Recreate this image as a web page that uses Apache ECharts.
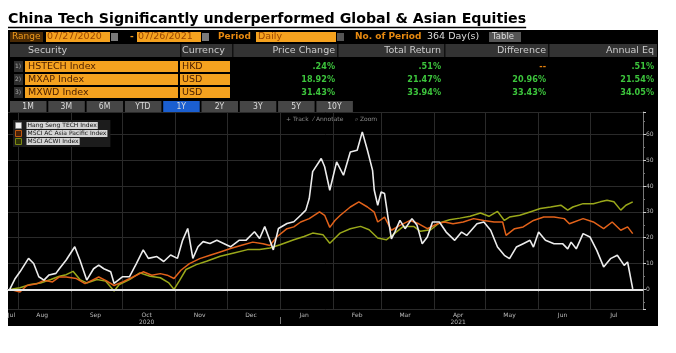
<!DOCTYPE html>
<html>
<head>
<meta charset="utf-8">
<script src="https://cdn.jsdelivr.net/npm/echarts@6/dist/echarts.min.js"></script>
<style>
html, body { margin: 0; padding: 0; background: #fff; }
#main { width: 676px; height: 353px; }
</style>
</head>
<body>
<div id="main"></div>
<script>
// ---- data ----
const titleText = 'China Tech Significantly underperformed Global & Asian Equities';
const seriesNames = ['Hang Seng TECH Index', 'MSCI AC Asia Pacific Index', 'MSCI ACWI Index'];
const securities = ['HSTECH Index', 'MXAP Index', 'MXWD Index'];
const currencies = ['HKD', 'USD', 'USD'];
const priceChange = ['.24%', '18.92%', '31.43%'];
const totalReturn = ['.51%', '21.47%', '33.94%'];
const difference = ['--', '20.96%', '33.43%'];
const annualEq = ['.51%', '21.54%', '34.05%'];
const tableHeaders = ['Security', 'Currency', 'Price Change', 'Total Return', 'Difference', 'Annual Eq'];
const periodButtons = ['1M', '3M', '6M', 'YTD', '1Y', '2Y', '3Y', '5Y', '10Y'];
const monthNames = ['Jan', 'Feb', 'Mar', 'Apr', 'May', 'Jun', 'Jul', 'Aug', 'Sep', 'Oct', 'Nov', 'Dec'];
const yTickValues = [0, 10, 20, 30, 40, 50, 60];

// % price change, [date, value]
const hstech = [
  ['2020-07-27', 0], ['2020-07-30', 4], ['2020-08-02', 6.8], ['2020-08-07', 12], ['2020-08-10', 10],
  ['2020-08-13', 4.9], ['2020-08-16', 3.6], ['2020-08-19', 5.6], ['2020-08-23', 6.2], ['2020-08-25', 8],
  ['2020-08-29', 11.4], ['2020-09-03', 16.5], ['2020-09-06', 11.4], ['2020-09-10', 3.6], ['2020-09-14', 8],
  ['2020-09-17', 9.4], ['2020-09-20', 8], ['2020-09-24', 6.8], ['2020-09-26', 2.3], ['2020-10-01', 4.9],
  ['2020-10-05', 4.9], ['2020-10-09', 10], ['2020-10-13', 15.3], ['2020-10-16', 12], ['2020-10-21', 12.7],
  ['2020-10-25', 10.8], ['2020-10-29', 13.3], ['2020-11-02', 12], ['2020-11-05', 19], ['2020-11-08', 23.6],
  ['2020-11-11', 12], ['2020-11-14', 16.5], ['2020-11-17', 18.5], ['2020-11-21', 17.8], ['2020-11-25', 19],
  ['2020-11-29', 17.8], ['2020-12-03', 16.5], ['2020-12-08', 19], ['2020-12-12', 19], ['2020-12-17', 22.3],
  ['2020-12-20', 19.7], ['2020-12-23', 24.3], ['2020-12-26', 19], ['2020-12-28', 15.3], ['2020-12-31', 23.6],
  ['2021-01-05', 25.5], ['2021-01-09', 26.2], ['2021-01-13', 28.7], ['2021-01-16', 30.7], ['2021-01-18', 35.2],
  ['2021-01-20', 45.6], ['2021-01-25', 50.7], ['2021-01-27', 47.5], ['2021-01-30', 38.4], ['2021-02-03', 49.4],
  ['2021-02-07', 44.2], ['2021-02-11', 53.2], ['2021-02-15', 53.9], ['2021-02-18', 61], ['2021-02-21', 53.9],
  ['2021-02-24', 46.1], ['2021-02-25', 38.4], ['2021-02-27', 32.6], ['2021-03-01', 37.7], ['2021-03-03', 37.1],
  ['2021-03-05', 28], ['2021-03-07', 19.6], ['2021-03-09', 22.2], ['2021-03-12', 26.7], ['2021-03-15', 23.5],
  ['2021-03-19', 27.4], ['2021-03-22', 24.8], ['2021-03-25', 17.7], ['2021-03-28', 20.3], ['2021-03-31', 26.1],
  ['2021-04-04', 26.1], ['2021-04-08', 22.2], ['2021-04-13', 19], ['2021-04-17', 22.2], ['2021-04-20', 20.9],
  ['2021-04-26', 25.4], ['2021-04-30', 26.1], ['2021-05-04', 22.9], ['2021-05-08', 16.4], ['2021-05-12', 13.2],
  ['2021-05-15', 11.9], ['2021-05-19', 16.4], ['2021-05-23', 17.7], ['2021-05-27', 19], ['2021-05-29', 16.4],
  ['2021-06-01', 22.2], ['2021-06-05', 19], ['2021-06-10', 17.7], ['2021-06-15', 17.7], ['2021-06-18', 15.7],
  ['2021-06-20', 18.3], ['2021-06-23', 15.7], ['2021-06-27', 21.6], ['2021-07-01', 20.3], ['2021-07-05', 15.1],
  ['2021-07-09', 8.7], ['2021-07-13', 11.9], ['2021-07-17', 13.2], ['2021-07-21', 9.3], ['2021-07-23', 10.6],
  ['2021-07-26', 0.2]
];
const mxap = [
  ['2020-07-27', 0], ['2020-08-02', -1], ['2020-08-06', 1.5], ['2020-08-12', 2.2], ['2020-08-16', 3.5],
  ['2020-08-21', 2.9], ['2020-08-25', 4.8], ['2020-08-29', 4.8], ['2020-09-04', 4.2], ['2020-09-09', 2.2],
  ['2020-09-13', 3.5], ['2020-09-17', 4.8], ['2020-09-21', 3.5], ['2020-09-26', 1.5], ['2020-10-01', 2.9],
  ['2020-10-07', 4.8], ['2020-10-13', 6.8], ['2020-10-18', 5.5], ['2020-10-23', 6.1], ['2020-10-27', 5.5],
  ['2020-10-31', 4.2], ['2020-11-04', 7.4], ['2020-11-09', 10], ['2020-11-15', 11.9], ['2020-11-21', 13.2],
  ['2020-11-27', 14.5], ['2020-12-03', 15.8], ['2020-12-09', 17], ['2020-12-16', 18.3], ['2020-12-22', 17.7],
  ['2020-12-26', 17], ['2020-12-30', 20.3], ['2021-01-05', 23.5], ['2021-01-09', 24.2], ['2021-01-13', 26.1],
  ['2021-01-18', 27.4], ['2021-01-24', 30], ['2021-01-27', 28.7], ['2021-01-30', 24], ['2021-02-02', 26.7],
  ['2021-02-05', 28.6], ['2021-02-11', 31.9], ['2021-02-16', 33.9], ['2021-02-21', 31.9], ['2021-02-25', 29.9],
  ['2021-02-27', 26.1], ['2021-03-03', 28], ['2021-03-07', 22.9], ['2021-03-12', 24.8], ['2021-03-18', 26.7],
  ['2021-03-23', 25.4], ['2021-03-28', 23.5], ['2021-04-03', 25.4], ['2021-04-07', 26.1], ['2021-04-12', 25.4],
  ['2021-04-18', 26.1], ['2021-04-24', 27.4], ['2021-04-30', 26.7], ['2021-05-06', 26.1], ['2021-05-11', 26.1],
  ['2021-05-13', 20.9], ['2021-05-18', 23.5], ['2021-05-23', 24.2], ['2021-05-29', 26.7], ['2021-06-04', 28],
  ['2021-06-10', 28], ['2021-06-16', 27.4], ['2021-06-19', 25.4], ['2021-06-27', 27.4], ['2021-07-03', 26.1],
  ['2021-07-09', 23.5], ['2021-07-14', 26.1], ['2021-07-19', 22.9], ['2021-07-23', 24.2], ['2021-07-26', 21.6]
];
const mxwd = [
  ['2020-07-27', 0], ['2020-08-02', 0.6], ['2020-08-08', 1.9], ['2020-08-14', 2.5], ['2020-08-20', 3.8],
  ['2020-08-25', 5.1], ['2020-08-29', 5.7], ['2020-09-02', 7], ['2020-09-06', 3.8], ['2020-09-10', 2.5],
  ['2020-09-16', 3.8], ['2020-09-21', 3.2], ['2020-09-26', -0.6], ['2020-09-29', 1.9], ['2020-10-05', 3.8],
  ['2020-10-11', 6.4], ['2020-10-17', 5.1], ['2020-10-23', 4.5], ['2020-10-28', 2.5], ['2020-10-31', 0],
  ['2020-11-03', 3.2], ['2020-11-07', 7.7], ['2020-11-13', 9.6], ['2020-11-19', 10.9], ['2020-11-27', 12.8],
  ['2020-12-05', 14.1], ['2020-12-13', 15.4], ['2020-12-20', 15.4], ['2020-12-26', 16], ['2021-01-01', 17.3],
  ['2021-01-09', 19.2], ['2021-01-15', 20.5], ['2021-01-20', 21.8], ['2021-01-26', 21.2], ['2021-01-30', 17.9],
  ['2021-02-03', 20.5], ['2021-02-05', 21.8], ['2021-02-11', 23.5], ['2021-02-17', 24.4], ['2021-02-22', 23.1],
  ['2021-02-27', 19.9], ['2021-03-04', 19.2], ['2021-03-08', 21.2], ['2021-03-14', 24.4], ['2021-03-20', 24.4],
  ['2021-03-24', 22.5], ['2021-03-30', 23.1], ['2021-04-04', 25.7], ['2021-04-10', 27], ['2021-04-16', 27.6],
  ['2021-04-22', 28.3], ['2021-04-28', 29.6], ['2021-05-03', 28.3], ['2021-05-08', 30.2], ['2021-05-12', 26.7],
  ['2021-05-15', 28], ['2021-05-21', 28.7], ['2021-05-27', 30], ['2021-06-02', 31.3], ['2021-06-08', 31.9],
  ['2021-06-14', 32.6], ['2021-06-18', 30.7], ['2021-06-21', 31.9], ['2021-06-27', 33.2], ['2021-07-03', 33.2],
  ['2021-07-07', 33.9], ['2021-07-11', 34.5], ['2021-07-15', 33.9], ['2021-07-19', 30.7], ['2021-07-22', 32.6],
  ['2021-07-26', 33.9]
];

// daily categories for the x axis
const xDates = [];
for (let t = Date.UTC(2020, 6, 26); t <= Date.UTC(2021, 7, 1); t += 86400000) {
  xDates.push(new Date(t).toISOString().slice(0, 10));
}

// ---- graphic helpers ----
const FONT = '"DejaVu Sans", sans-serif';
const NARROW = '"Liberation Sans Narrow", "DejaVu Sans Condensed", sans-serif';
function rect(x, y, w, h, fill, extra) {
  return Object.assign({ type: 'rect', shape: { x: x, y: y, width: w, height: h }, style: { fill: fill }, silent: true }, extra || {});
}
function txt(s, x, y, fill, font, align) {
  return { type: 'text', silent: true, style: { text: s, x: x, y: y, fill: fill, font: font, align: align || 'left', verticalAlign: 'middle' } };
}

const titleFont = 'bold 14.2px "DejaVu Sans", sans-serif';
const measure = document.createElement('canvas').getContext('2d');
measure.font = titleFont;
const titleW = measure.measureText(titleText).width;

const g = [];
// title
g.push(txt(titleText, 8, 19, '#000', titleFont));
g.push({ type: 'line', silent: true, shape: { x1: 8, y1: 27.5, x2: 8 + titleW, y2: 27.5 }, style: { stroke: '#000', lineWidth: 1.3 } });
// black panel
g.push(rect(8, 30, 650, 296, '#000', { z: -10 }));

// range row
const orange = '#f5a21f', orangeText = '#9a4600';
g.push(rect(10, 32, 33, 10, '#4a2a04'));
g.push(txt('Range', 12, 37, '#f09a1c', '9px ' + FONT));
g.push(rect(46, 32, 64, 10, orange));
g.push(txt('07/27/2020', 47, 37, orangeText, '9.5px ' + FONT));
g.push(rect(111, 33, 7, 8, '#7a7a7a'));
g.push(txt('-', 130, 37, '#f09a1c', 'bold 9px ' + FONT));
g.push(rect(137, 32, 64, 10, orange));
g.push(txt('07/26/2021', 138, 37, orangeText, '9.5px ' + FONT));
g.push(rect(202, 33, 7, 8, '#7a7a7a'));
g.push(txt('Period', 218, 37, '#e88a10', 'bold 9px ' + FONT));
g.push(rect(256, 32, 80, 10, orange));
g.push(txt('Daily', 258, 37, orangeText, '9.5px ' + FONT));
g.push(rect(337, 33, 7, 8, '#555'));
g.push(txt('No. of Period', 355, 37, '#e88a10', 'bold 9px ' + FONT));
g.push(txt('364 Day(s)', 427, 37, '#ddd', '9.5px ' + FONT));
g.push(rect(489, 32, 32, 10, '#555'));
g.push(txt('Table', 492, 37, '#ddd', '8.5px ' + FONT));

// header row
g.push(rect(10, 44, 647, 13, '#333'));
[180, 232, 337, 444, 548].forEach(function (x) { g.push(rect(x, 44, 1.5, 13, '#111')); });
g.push(txt(tableHeaders[0], 28, 50.5, '#ccc', '9.5px ' + FONT));
g.push(txt(tableHeaders[1], 182, 50.5, '#ccc', '9.5px ' + FONT));
const valueRight = [335, 441, 546, 654];
for (let i = 2; i < 6; i++) g.push(txt(tableHeaders[i], valueRight[i - 2], 50.5, '#ccc', '9.5px ' + FONT, 'right'));

// data rows
const rowY = [61, 74, 87];
for (let r = 0; r < 3; r++) {
  const y = rowY[r];
  g.push(rect(14, y, 9, 11, '#2e2e2e'));
  g.push(txt((r + 1) + ')', 15, y + 5.5, '#aaa', '6px ' + FONT));
  g.push(rect(25, y, 153, 11, orange));
  g.push(txt(securities[r], 28, y + 5.5, '#4a1e00', '9.5px ' + FONT));
  g.push(rect(180, y, 50, 11, orange));
  g.push(txt(currencies[r], 182, y + 5.5, '#4a1e00', '9.5px ' + FONT));
  const vals = [priceChange[r], totalReturn[r], difference[r], annualEq[r]];
  for (let c = 0; c < 4; c++) {
    const isDash = vals[c] === '--';
    g.push(txt(vals[c], valueRight[c], y + 5.5, isDash ? '#e8820c' : '#3cc43c', 'bold 9px ' + NARROW, 'right'));
  }
}

// period buttons
periodButtons.forEach(function (b, i) {
  const x = 10 + i * 38.3;
  g.push(rect(x, 101, 36.5, 11, b === '1Y' ? '#1b5fd0' : '#464646'));
  g.push(txt(b, x + 18, 106.5, '#ddd', '8.5px ' + NARROW, 'center'));
});

// chart toolbar
g.push(txt('+ Track', 286, 119.5, '#8a8a8a', '6px ' + FONT));
g.push(txt('\u2044 Annotate', 313, 119.5, '#8a8a8a', '6px ' + FONT));
g.push(txt('\u2315 Zoom', 355, 119.5, '#8a8a8a', '6px ' + FONT));

// ---- chart ----
const chart = echarts.init(document.getElementById('main'));
const monthStart = function (i, v) { return v.slice(8) === '01'; };
const option = {
  backgroundColor: '#fff',
  animation: false,
  graphic: { elements: g },
  grid: { left: 8, right: 33, top: 112, bottom: 44 },
  legend: {
    left: 13, top: 120, orient: 'vertical',
    itemGap: 1, itemWidth: 6, itemHeight: 6, icon: 'rect',
    backgroundColor: '#1c1c1c', padding: [2, 3, 2, 2],
    textStyle: { color: '#111', fontSize: 6, fontFamily: 'DejaVu Sans', backgroundColor: '#d4d4d4', padding: [0, 1], lineHeight: 7 },
    data: [
      { name: seriesNames[0], itemStyle: { color: '#f2f2f2', borderColor: '#888', borderWidth: 0.5 } },
      { name: seriesNames[1], itemStyle: { color: '#4a2208', borderColor: '#c05a10', borderWidth: 1 } },
      { name: seriesNames[2], itemStyle: { color: '#2e3208', borderColor: '#7d8a14', borderWidth: 1 } }
    ]
  },
  xAxis: [
    {
      type: 'category', data: xDates, boundaryGap: false, position: 'bottom',
      axisLine: { lineStyle: { color: '#6a6a6a', width: 1 } },
      axisTick: { show: true, interval: monthStart, length: 2, lineStyle: { color: '#aaa' } },
      axisLabel: {
        interval: function (i, v) { return v === '2020-07-28' || (v.slice(8) === '15' && v > '2020-08'); },
        formatter: function (v) { return monthNames[+v.slice(5, 7) - 1]; },
        color: '#bbb', fontSize: 6, fontFamily: 'DejaVu Sans', margin: 3
      },
      splitLine: { show: true, interval: monthStart, lineStyle: { color: '#2a2a2a', width: 1 } }
    },
    {
      type: 'category', data: xDates, boundaryGap: false, position: 'bottom', offset: 8,
      axisLine: { show: false },
      axisTick: { show: true, interval: function (i, v) { return v === '2021-01-01'; }, length: 7, lineStyle: { color: '#777' } },
      axisLabel: {
        interval: function (i, v) { return v === '2020-10-15' || v === '2021-04-15'; },
        formatter: function (v) { return v.slice(0, 4); },
        color: '#bbb', fontSize: 6, fontFamily: 'DejaVu Sans', margin: 2
      },
      splitLine: { show: false }
    }
  ],
  yAxis: {
    type: 'value', position: 'right', min: -7.6, max: 68.7, splitNumber: 8,
    axisLine: { show: true, lineStyle: { color: '#777' } },
    axisTick: { show: true, length: 3, lineStyle: { color: '#ccc' } },
    minorTick: { show: true, splitNumber: 2, length: 2, lineStyle: { color: '#777' } },
    axisLabel: {
      color: '#bbb', fontSize: 6, fontFamily: 'DejaVu Sans', margin: 3,
      formatter: function (v) { return yTickValues.indexOf(Math.round(v * 100) / 100) >= 0 ? String(v) : ''; }
    },
    splitLine: { show: true, lineStyle: { color: '#2a2a2a' } }
  },
  series: [
    {
      name: seriesNames[0], type: 'line', data: hstech, showSymbol: false, z: 4,
      lineStyle: { color: '#ececec', width: 1.6 }, itemStyle: { color: '#ececec' },
      markLine: {
        silent: true, symbol: 'none', label: { show: false },
        lineStyle: { color: '#e6e6e6', width: 2, type: 'solid' },
        data: [{ yAxis: 0 }]
      }
    },
    {
      name: seriesNames[1], type: 'line', data: mxap, showSymbol: false, z: 3,
      lineStyle: { color: '#e2621a', width: 1.5 }, itemStyle: { color: '#e2621a' }
    },
    {
      name: seriesNames[2], type: 'line', data: mxwd, showSymbol: false, z: 2,
      lineStyle: { color: '#9aa81a', width: 1.5 }, itemStyle: { color: '#9aa81a' }
    }
  ]
};
chart.setOption(option);
</script>
</body>
</html>
